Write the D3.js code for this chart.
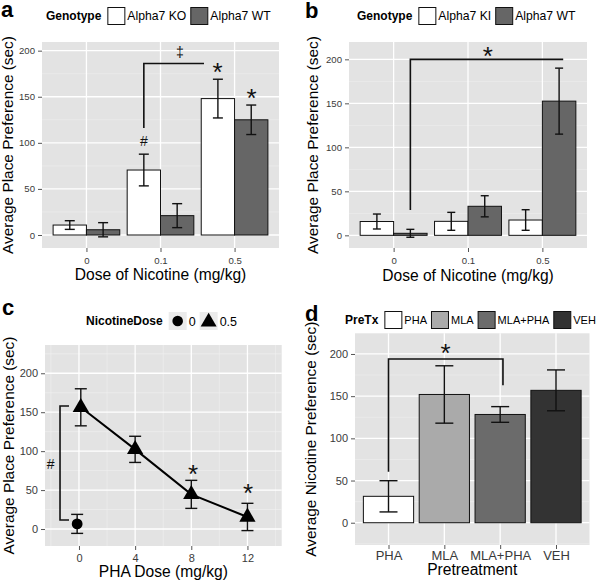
<!DOCTYPE html>
<html>
<head>
<meta charset="utf-8">
<script src="https://cdn.jsdelivr.net/npm/d3@7"></script>
<style>
  body { margin: 0; background: #fff; }
  svg { display: block; font-family: "Liberation Sans", Arial, sans-serif; }
</style>
</head>
<body>
<svg width="600" height="580"></svg>
<script>
// ---- data ----
// panel a: alpha7 KO vs WT
const dosesA = ["0", "0.1", "0.5"];
const koMean = [10.8, 70.5, 148];
const koSE = [4.7, 17.2, 21];
const wtMeanA = [5.7, 21, 125];
const wtSEA = [7.7, 13, 16];

// panel b: alpha7 KI vs WT
const dosesB = ["0", "0.1", "0.5"];
const kiMean = [15.7, 15.9, 17.4];
const kiSE = [8.5, 10.2, 11.7];
const wtMeanB = [2.3, 33, 152.5];
const wtSEB = [4.5, 12, 37.5];

// panel c: PHA dose response
const phaDose = [0, 4, 8, 12];
const nic05Mean = [156.3, 102.3, 44.5, 15.5];
const nic05SE = [23.8, 16.8, 18, 17.5];
const nic0Dose = [0];
const nic0Mean = [6.6];
const nic0SE = [12.2];

// panel d: pretreatment
const pretx = ["PHA", "MLA", "MLA+PHA", "VEH"];
const pretxMean = [31.3, 152, 128.3, 156.9];
const pretxSE = [18.5, 34, 9.3, 24.2];
const pretxFill = ["#ffffff", "#aaaaaa", "#6b6b6b", "#333333"];

const yTicks = [0, 50, 100, 150, 200];

const svg = d3.select("svg");

// draws background, grid and axes, returns scales
function panel(p) {
  const g = svg.append("g");
  const x = d3.scaleLinear().domain(p.xDomain).range([p.x0, p.x1]);
  const y = d3.scaleLinear().domain(p.yDomain).range([p.y1, p.y0]);
  g.append("rect")
    .attr("x", p.x0).attr("y", p.y0)
    .attr("width", p.x1 - p.x0).attr("height", p.y1 - p.y0)
    .attr("fill", "#e3e3e3");

  const yMinor = d3.range(-25, 250, 50).filter(v => v > p.yDomain[0] && v < p.yDomain[1]);
  g.selectAll(null).data(yMinor).join("line")
    .attr("x1", p.x0).attr("x2", p.x1)
    .attr("y1", d => y(d)).attr("y2", d => y(d))
    .attr("stroke", "#f0f0f0").attr("stroke-width", 0.6);
  g.selectAll(null).data(p.xMinor || []).join("line")
    .attr("y1", p.y0).attr("y2", p.y1)
    .attr("x1", d => x(d)).attr("x2", d => x(d))
    .attr("stroke", "#f0f0f0").attr("stroke-width", 0.6);
  g.selectAll(null).data(yTicks).join("line")
    .attr("x1", p.x0).attr("x2", p.x1)
    .attr("y1", d => y(d)).attr("y2", d => y(d))
    .attr("stroke", "#fff").attr("stroke-width", 1.3);
  g.selectAll(null).data(p.xTicks).join("line")
    .attr("y1", p.y0).attr("y2", p.y1)
    .attr("x1", d => x(d)).attr("x2", d => x(d))
    .attr("stroke", "#fff").attr("stroke-width", 1.3);

  const gy = g.append("g")
    .attr("transform", `translate(${p.x0},0)`)
    .call(d3.axisLeft(y).tickValues(yTicks).tickSize(4).tickPadding(3));
  gy.select(".domain").remove();
  gy.attr("font-family", null).attr("font-size", p.yTickFont).attr("color", "#555");
  gy.selectAll("text").attr("fill", "#3a3a3a");

  const gx = g.append("g")
    .attr("transform", `translate(0,${p.y1})`)
    .call(d3.axisBottom(x).tickValues(p.xTicks).tickFormat(p.xFormat).tickSize(4).tickPadding(p.xPad));
  gx.select(".domain").remove();
  gx.attr("font-family", null).attr("font-size", p.xTickFont).attr("color", "#555");
  gx.selectAll("text").attr("fill", "#3a3a3a");

  // axis titles
  g.append("text")
    .attr("x", (p.x0 + p.x1) / 2).attr("y", p.xTitleY)
    .attr("text-anchor", "middle").attr("font-size", 15.6)
    .text(p.xTitle);
  g.append("text")
    .attr("transform", `translate(${p.yTitleX},${(p.y0 + p.y1) / 2}) rotate(-90)`)
    .attr("text-anchor", "middle").attr("font-size", 15.4)
    .text(p.yTitle);
  // panel letter
  svg.append("text")
    .attr("x", p.tagX).attr("y", p.tagY)
    .attr("font-size", 22).attr("font-weight", "bold")
    .text(p.tag);
  return { g, x, y };
}

function bars(P, xs, means, width, fills) {
  P.g.selectAll(null).data(means).join("rect")
    .attr("x", (d, i) => P.x(xs[i] - width / 2))
    .attr("width", P.x(width) - P.x(0))
    .attr("y", d => P.y(Math.max(d, 0)))
    .attr("height", d => Math.abs(P.y(d) - P.y(0)))
    .attr("fill", (d, i) => Array.isArray(fills) ? fills[i] : fills)
    .attr("stroke", "#111").attr("stroke-width", 1);
}

function errbars(P, xs, means, ses, cap) {
  const g = P.g.append("g").attr("stroke", "#111").attr("stroke-width", 1.4).attr("fill", "none");
  means.forEach((m, i) => {
    const cx = P.x(xs[i]);
    const lo = P.y(m - ses[i]), hi = P.y(m + ses[i]);
    g.append("line").attr("x1", cx).attr("x2", cx).attr("y1", lo).attr("y2", hi);
    g.append("line").attr("x1", cx - cap / 2).attr("x2", cx + cap / 2).attr("y1", lo).attr("y2", lo);
    g.append("line").attr("x1", cx - cap / 2).attr("x2", cx + cap / 2).attr("y1", hi).attr("y2", hi);
  });
}

function bracket(P, pts) {
  P.g.append("path")
    .attr("d", d3.line().x(d => P.x(d[0])).y(d => P.y(d[1]))(pts))
    .attr("fill", "none").attr("stroke", "#111").attr("stroke-width", 1.6);
}

function star(P, xv, yv) {
  const fs = 26;
  P.g.append("text")
    .attr("x", P.x(xv)).attr("y", P.y(yv) + 0.57 * fs)
    .attr("text-anchor", "middle").attr("font-size", fs)
    .attr("fill", "#111")
    .text("*");
}

function mark(P, xv, yv, s) {
  P.g.append("text")
    .attr("x", P.x(xv)).attr("y", P.y(yv) + 5)
    .attr("text-anchor", "middle").attr("font-size", 14)
    .attr("fill", "#111")
    .text(s);
}

// legend: title then keys laid out in a row
function legend(x, cy, title, items, labelFont) {
  const g = svg.append("g");
  const t = g.append("text").attr("x", x).attr("y", cy + 4.3)
    .attr("font-size", 12).attr("font-weight", "bold").text(title);
  let cx = x + t.node().getComputedTextLength() + 6;
  items.forEach(it => {
    const k = 18;
    if (it.fill) {
      g.append("rect").attr("x", cx + 0.5).attr("y", cy - k / 2 + 0.5)
        .attr("width", k - 1).attr("height", k - 1)
        .attr("fill", it.fill).attr("stroke", "#111").attr("stroke-width", 1);
    } else {
      g.append("rect").attr("x", cx).attr("y", cy - k / 2)
        .attr("width", k).attr("height", k).attr("fill", "#ebebeb");
      g.append("path")
        .attr("transform", `translate(${cx + k / 2},${cy + (it.shape === "triangle" ? 1 : 0)})`)
        .attr("d", d3.symbol(it.shape === "triangle" ? d3.symbolTriangle : d3.symbolCircle, it.shape === "triangle" ? 110 : 88)())
        .attr("fill", "#000");
    }
    cx += k + 2;
    const l = g.append("text").attr("x", cx).attr("y", cy + 0.36 * labelFont)
      .attr("font-size", labelFont).text(it.label);
    cx += l.node().getComputedTextLength() + 4;
  });
}

// ---- panel a ----
const A = panel({
  x0: 42, x1: 279, y0: 42, y1: 248,
  xDomain: [0.4, dosesA.length + 0.6], yDomain: [-14.1, 209.4],
  xTicks: dosesA.map((d, i) => i + 1), xFormat: (d) => dosesA[d - 1],
  yTickFont: 9.6, xTickFont: 9.6, xPad: 5,
  xTitle: "Dose of Nicotine (mg/kg)", xTitleY: 280,
  yTitle: "Average Place Preference (sec)", yTitleX: 13,
  tag: "a", tagX: 1, tagY: 17
});
const xsKO = dosesA.map((d, i) => i + 1 - 0.225);
const xsWTa = dosesA.map((d, i) => i + 1 + 0.225);
bars(A, xsKO, koMean, 0.45, "#ffffff");
bars(A, xsWTa, wtMeanA, 0.45, "#666666");
errbars(A, xsKO, koMean, koSE, 10);
errbars(A, xsWTa, wtMeanA, wtSEA, 10);
bracket(A, [[1.775, 116], [1.775, 186], [2.587, 186]]);
mark(A, 1.775, 102.5, "#");
mark(A, 2.263, 199, "\u2021");
star(A, 2.77, 183);
star(A, 3.23, 155);
legend(46, 16, "Genotype", [{ fill: "#ffffff", label: "Alpha7 KO" }, { fill: "#666666", label: "Alpha7 WT" }], 12.2);

// ---- panel b ----
const B = panel({
  x0: 349, x1: 587, y0: 42, y1: 248,
  xDomain: [0.4, dosesB.length + 0.6], yDomain: [-14.4, 219.7],
  xTicks: dosesB.map((d, i) => i + 1), xFormat: (d) => dosesB[d - 1],
  yTickFont: 9.6, xTickFont: 9.6, xPad: 5,
  xTitle: "Dose of Nicotine (mg/kg)", xTitleY: 281,
  yTitle: "Average Place Preference (sec)", yTitleX: 318,
  tag: "b", tagX: 305, tagY: 18
});
const xsKI = dosesB.map((d, i) => i + 1 - 0.225);
const xsWTb = dosesB.map((d, i) => i + 1 + 0.225);
bars(B, xsKI, kiMean, 0.45, "#ffffff");
bars(B, xsWTb, wtMeanB, 0.45, "#666666");
errbars(B, xsKI, kiMean, kiSE, 8);
errbars(B, xsWTb, wtMeanB, wtSEB, 8);
bracket(B, [[1.225, 28.8], [1.225, 200], [3.28, 200]]);
star(B, 2.268, 210.6);
legend(357, 16, "Genotype", [{ fill: "#ffffff", label: "Alpha7 KI" }, { fill: "#666666", label: "Alpha7 WT" }], 12.2);

// ---- panel c ----
const C = panel({
  x0: 45, x1: 281.7, y0: 345, y1: 546,
  xDomain: [-2.42, 14.44], yDomain: [-21.8, 236.3],
  xTicks: phaDose, xFormat: d3.format("d"), xMinor: [-2, 2, 6, 10, 14],
  yTickFont: 11, xTickFont: 11, xPad: 4,
  xTitle: "PHA Dose (mg/kg)", xTitleY: 577,
  yTitle: "Average Place Preference (sec)", yTitleX: 14,
  tag: "c", tagX: 2, tagY: 315
});
const dodgeC = 0.13;
const xs05 = phaDose.map(d => nic0Dose.includes(d) ? d + dodgeC : d);
const xs0 = nic0Dose.map(d => d - dodgeC);
errbars(C, xs05, nic05Mean, nic05SE, 12);
errbars(C, xs0, nic0Mean, nic0SE, 12);
C.g.append("path")
  .attr("d", d3.line().x((d, i) => C.x(xs05[i])).y(d => C.y(d))(nic05Mean))
  .attr("fill", "none").attr("stroke", "#000").attr("stroke-width", 2);
C.g.selectAll(null).data(nic05Mean).join("path")
  .attr("transform", (d, i) => `translate(${C.x(xs05[i])},${C.y(d)})`)
  .attr("d", d3.symbol(d3.symbolTriangle, 115)())
  .attr("fill", "#000");
C.g.selectAll(null).data(nic0Mean).join("circle")
  .attr("cx", (d, i) => C.x(xs0[i])).attr("cy", d => C.y(d))
  .attr("r", 5.4).attr("fill", "#000");
bracket(C, [[-0.71, 158], [-1.35, 158], [-1.35, 11.5], [-0.71, 11.5]]);
mark(C, -2.02, 83.5, "#");
star(C, 8.12, 78);
star(C, 12.04, 54.3);
legend(86, 321, "NicotineDose", [{ shape: "circle", label: "0" }, { shape: "triangle", label: "0.5" }], 12.5);

// ---- panel d ----
const D = panel({
  x0: 355, x1: 589.5, y0: 333.3, y1: 545,
  xDomain: [0.4, pretx.length + 0.6], yDomain: [-26.4, 224.5],
  xTicks: pretx.map((d, i) => i + 1), xFormat: (d) => pretx[d - 1],
  yTickFont: 11, xTickFont: 13, xPad: 2,
  xTitle: "Pretreatment", xTitleY: 575,
  yTitle: "Average Nicotine Preference (sec)", yTitleX: 316,
  tag: "d", tagX: 305, tagY: 321
});
const xsD = pretx.map((d, i) => i + 1);
bars(D, xsD, pretxMean, 0.9, pretxFill);
errbars(D, xsD, pretxMean, pretxSE, 18);
bracket(D, [[1, 60.5], [1, 194], [3.05, 194], [3.05, 163]]);
star(D, 2.02, 208);
legend(345, 320, "PreTx", pretx.map((d, i) => ({ fill: pretxFill[i], label: d })), 11);
</script>
</body>
</html>
